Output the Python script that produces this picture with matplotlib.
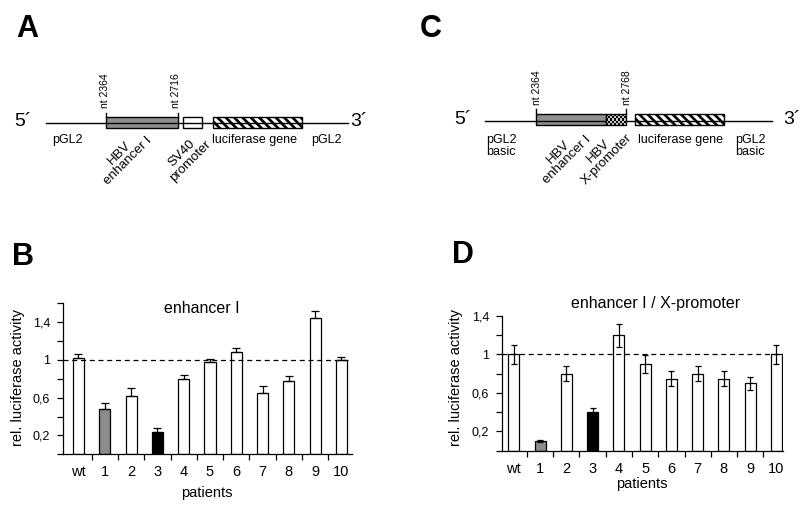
import numpy as np
import matplotlib.pyplot as plt
from matplotlib.patches import Rectangle

plt.rcParams['font.family'] = ['Liberation Sans', 'DejaVu Sans']
plt.rcParams['hatch.linewidth'] = 1.9

# ---- data ----
patients = ['wt', '1', '2', '3', '4', '5', '6', '7', '8', '9', '10']
bar_colors = ['white', '#8c8c8c', 'white', 'black', 'white', 'white',
              'white', 'white', 'white', 'white', 'white']

# B: enhancer I
enh_vals = [1.02, 0.48, 0.62, 0.24, 0.80, 0.98, 1.08, 0.65, 0.78, 1.44, 1.00]
enh_err = [0.04, 0.06, 0.08, 0.04, 0.04, 0.03, 0.05, 0.07, 0.05, 0.08, 0.03]

# D: enhancer I / X-promoter
xp_vals = [1.00, 0.10, 0.80, 0.40, 1.20, 0.90, 0.75, 0.80, 0.75, 0.70, 1.00]
xp_err = [0.10, 0.01, 0.08, 0.04, 0.12, 0.09, 0.08, 0.08, 0.08, 0.07, 0.10]

ytick_vals = [0.2, 0.6, 1.0, 1.4]
ytick_labels = ['0,2', '0,6', '1', '1,4']

W, H = 800, 505
fig = plt.figure(figsize=(8, 5.05), dpi=100)

# full-figure axes in pixel units for the construct drawings and free text
dax = fig.add_axes([0, 0, 1, 1])
dax.set_xlim(0, W)
dax.set_ylim(H, 0)
dax.axis('off')


def box(x0, x1, y0, y1, **kw):
    r = Rectangle((x0, y0), x1 - x0, y1 - y0, edgecolor='black', linewidth=1.0, **kw)
    dax.add_patch(r)
    return r


def rot_label(x, y, s):
    dax.text(x, y, s, rotation=45, ha='center', va='center', fontsize=9.5,
             multialignment='center', linespacing=0.95)


# ---- A: enhancer I construct ----
dax.plot([46, 348], [123, 123], color='black', lw=1.0)
dax.text(23, 122, '5\u00b4', fontsize=14, ha='center', va='center')
dax.text(359, 122, '3\u00b4', fontsize=14, ha='center', va='center')
box(106, 177.5, 116.7, 128.3, facecolor='#8f8f8f')
for xt, nt in [(106, 'nt 2364'), (177.5, 'nt 2716')]:
    dax.plot([xt, xt], [112.5, 116.7], color='black', lw=1.0)
    dax.text(xt - 1.5, 108, nt, rotation=90, ha='center', va='bottom', fontsize=7.5)
box(183.3, 201.7, 117.3, 128.3, facecolor='white')
box(212.7, 301.7, 117.3, 128.3, facecolor='white', hatch='\\\\\\\\')
dax.text(67.5, 140, 'pGL2', fontsize=9, ha='center', va='center')
dax.text(254, 140, 'luciferase gene', fontsize=9, ha='center', va='center')
dax.text(326, 140, 'pGL2', fontsize=9, ha='center', va='center')
rot_label(124, 157, 'HBV\nenhancer I')
rot_label(186, 157, 'SV40\npromoter')

# ---- C: enhancer I / X-promoter construct ----
dax.plot([485, 772], [121, 121], color='black', lw=1.0)
dax.text(463, 120, '5\u00b4', fontsize=14, ha='center', va='center')
dax.text(792, 120, '3\u00b4', fontsize=14, ha='center', va='center')
box(536, 606, 114, 125, facecolor='#8f8f8f')
checker = np.indices((5, 10)).sum(axis=0) % 2
dax.imshow(checker * 0.8, cmap='gray', vmin=0, vmax=1, extent=[606, 626, 125, 114],
           aspect='auto', interpolation='nearest', zorder=2)
box(606, 626, 114, 125, facecolor='none', zorder=3)
for xt, nt in [(536, 'nt 2364'), (626, 'nt 2768')]:
    dax.plot([xt, xt], [109.3, 114], color='black', lw=1.0)
    dax.text(xt + 1, 105, nt, rotation=90, ha='center', va='bottom', fontsize=7.5)
box(635, 724, 114, 125, facecolor='white', hatch='\\\\\\\\')
dax.text(486, 146, 'pGL2\nbasic', fontsize=9, ha='left', va='center', linespacing=0.95)
dax.text(735, 146, 'pGL2\nbasic', fontsize=9, ha='left', va='center', linespacing=0.95)
dax.text(680, 140, 'luciferase gene', fontsize=9, ha='center', va='center')
rot_label(563, 156, 'HBV\nenhancer I')
rot_label(603, 155, 'HBV\nX-promoter')

# ---- panel letters ----
for x, y, s in [(27, 29, 'A'), (23, 257, 'B'), (431, 29, 'C'), (463, 255, 'D')]:
    dax.text(x, y, s, fontsize=22, fontweight='bold', ha='center', va='center')


def bar_panel(px, vals, errs, ytop, xlim, upper_only, capsize):
    l, r, t, b = px
    ax = fig.add_axes([l / W, 1 - b / H, (r - l) / W, (b - t) / H])
    ax.patch.set_visible(False)
    x = np.arange(len(patients))
    ax.bar(x, vals, width=0.42, color=bar_colors, edgecolor='black',
           linewidth=0.9, zorder=2)
    yerr = [np.zeros(len(errs)), errs] if upper_only else errs
    ax.errorbar(x, vals, yerr=yerr, fmt='none', ecolor='black', elinewidth=0.9,
                capsize=capsize, capthick=0.9, zorder=3)
    ax.axhline(1, color='black', ls=(0, (4, 3)), lw=0.9, zorder=4)
    ax.set_xlim(*xlim)
    ax.set_ylim(0, ytop)
    ax.set_xticks(x)
    ax.set_xticklabels(patients, fontsize=10.5)
    ax.set_xticks(np.arange(0.5, len(patients) - 1, 1), minor=True)
    ax.tick_params(axis='x', which='major', length=0, pad=8)
    ax.tick_params(axis='x', which='minor', length=4, width=0.9)
    ax.set_yticks(ytick_vals)
    ax.set_yticklabels(ytick_labels, fontsize=9)
    ax.set_yticks(np.arange(0, ytop + 0.01, 0.4), minor=True)
    ax.tick_params(axis='y', which='both', length=4, width=0.9, pad=5)
    for s in ['top', 'right']:
        ax.spines[s].set_visible(False)
    for s in ['left', 'bottom']:
        ax.spines[s].set_linewidth(0.9)
    return ax


bar_panel((62.7, 352, 303.3, 454.3), enh_vals, enh_err, 1.6, (-0.6, 10.4), True, 2.8)
bar_panel((501.7, 783, 316, 450.7), xp_vals, xp_err, 1.4, (-0.46, 10.25), False, 2.0)

dax.text(202, 308.5, 'enhancer I', fontsize=11.5, ha='center', va='center')
dax.text(655.5, 303.5, 'enhancer I / X-promoter', fontsize=11.5, ha='center', va='center')
dax.text(18, 378, 'rel. luciferase activity', fontsize=10.5, rotation=90, ha='center', va='center')
dax.text(456, 377, 'rel. luciferase activity', fontsize=10.5, rotation=90, ha='center', va='center')
dax.text(206.5, 493, 'patients', fontsize=10.5, ha='center', va='center')
dax.text(641.5, 484, 'patients', fontsize=10.5, ha='center', va='center')

fig.savefig('out.png', dpi=100)
